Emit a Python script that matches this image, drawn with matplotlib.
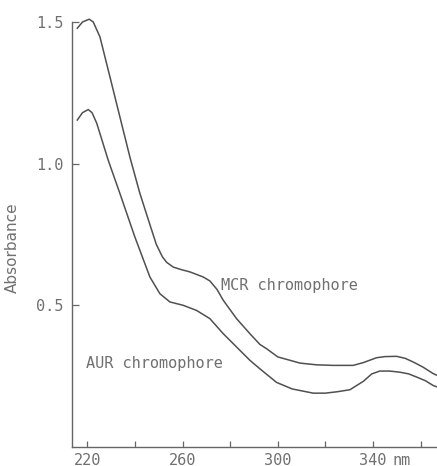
import numpy as np
import matplotlib
matplotlib.use('Agg')
import matplotlib.pyplot as plt
from matplotlib.transforms import ScaledTranslation

# absorbance spectra (wavelength in nm)
mcr_wl = [215.8, 218, 220.8, 222.5, 225.3, 229.5, 233.7, 238, 242.1, 246.3, 249, 251.5,
          253.3, 256.1, 259.5, 263.1, 268.7, 271.5, 274.5, 277.1, 282.7, 288.3, 292.5, 295.3,
          300, 309.4, 316.3, 323.3, 331.7, 336, 341.5, 345, 349.9, 353.5, 356.9, 361, 365.3,
          366.9]
mcr_abs = [1.478, 1.50, 1.51, 1.50, 1.448, 1.307, 1.165, 1.02, 0.895, 0.785, 0.715, 0.672,
           0.652, 0.635, 0.626, 0.618, 0.600, 0.586, 0.556, 0.518, 0.453, 0.400, 0.362, 0.347,
           0.318, 0.296, 0.290, 0.288, 0.288, 0.298, 0.315, 0.319, 0.320, 0.313, 0.300, 0.282,
           0.259, 0.253]

aur_wl = [215.8, 218, 220.4, 222, 224, 228.8, 233.7, 240, 246.3, 250.5, 254.7, 260.3,
          265.9, 271.5, 277.1, 282.7, 288.3, 292.5, 299.5, 306, 314.9, 320, 325,
          330.3, 336, 339.5, 342.9, 347, 351.3, 355, 358.3, 362, 365.3, 366.9]
aur_abs = [1.154, 1.18, 1.191, 1.18, 1.142, 1.012, 0.895, 0.741, 0.600, 0.541, 0.512, 0.500,
           0.482, 0.453, 0.400, 0.353, 0.306, 0.276, 0.228, 0.205, 0.190, 0.190, 0.195,
           0.202, 0.232, 0.258, 0.268, 0.268, 0.264, 0.258, 0.247, 0.234, 0.217, 0.212]

xticks = [220, 240, 260, 280, 300, 320, 340, 360]
xticklabels = ['220', '', '260', '', '300', '', '340', '']
yticks = [0.5, 1.0, 1.5]
yticklabels = ['0.5', '1.0', '1.5']

line_col = '#505050'
text_col = '#707070'
mono = 'DejaVu Sans Mono'

fig = plt.figure(figsize=(4.37, 4.66), dpi=100)
ax = fig.add_axes([0.1654, 0.0408, 0.8346, 0.912])

ax.plot(mcr_wl, mcr_abs, color=line_col, lw=1.1, clip_on=False)
ax.plot(aur_wl, aur_abs, color=line_col, lw=1.1, clip_on=False)

ax.set_xlim(213.7, 366.9)
ax.set_ylim(0, 1.5)

for s in ['top', 'right']:
    ax.spines[s].set_visible(False)
for s in ['left', 'bottom']:
    ax.spines[s].set_color('#666666')
    ax.spines[s].set_linewidth(1.0)

ax.set_xticks(xticks)
ax.set_xticklabels(xticklabels, family=mono, fontsize=11, color=text_col)
ax.set_yticks(yticks)
ax.set_yticklabels(yticklabels, family=mono, fontsize=11, color=text_col)
ax.tick_params(axis='x', direction='in', length=4, width=0.9, color='#666666', pad=4)
ax.tick_params(axis='y', direction='in', length=5, width=0.9, color='#666666', pad=6.5)

# unit sits beside the 340 tick label, on the same line
nm_tr = ax.get_xaxis_transform() + ScaledTranslation(0, -4 / 72, fig.dpi_scale_trans)
ax.text(348, 0, 'nm', family=mono, fontsize=11, color=text_col,
        ha='left', va='top', transform=nm_tr, clip_on=False)

ax.set_ylabel('Absorbance', fontsize=11, color=text_col)
ax.yaxis.set_label_coords(-0.145, 0.47)

ax.text(276.0, 0.571, 'MCR chromophore', family=mono, fontsize=11, color=text_col,
        ha='left', va='center')
ax.text(219.5, 0.296, 'AUR chromophore', family=mono, fontsize=11, color=text_col,
        ha='left', va='center')

fig.savefig('out.png', dpi=100)
